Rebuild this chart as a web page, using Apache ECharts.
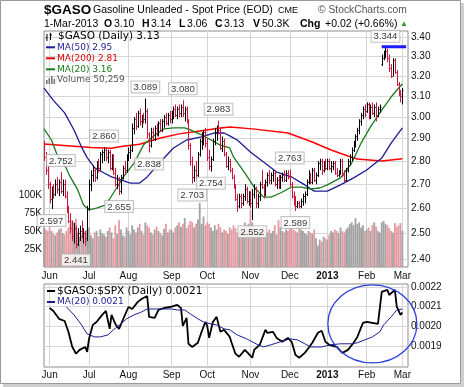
<!DOCTYPE html>
<html><head><meta charset="utf-8">
<script src="https://cdn.jsdelivr.net/npm/echarts@6/dist/echarts.min.js"></script>
<style>html,body{margin:0;padding:0;background:#fff}#c{width:464px;height:387px}</style>
</head><body><div id="c"></div>
<script>
// ---------- DATA ----------
const FIRST_DAY = '2012-05-29';
const DAY_COUNT = 195; // trading-day slots incl. 3 blank slots after the last bar
const HOLIDAYS = ['2012-07-04','2012-09-03','2012-11-22','2012-12-25','2013-01-01','2013-01-21','2013-02-18'];
const monthNames = ['Jan','Feb','Mar','Apr','May','Jun','Jul','Aug','Sep','Oct','Nov','Dec'];

// daily [open, high, low, close]
const ohlc = [
// May 29 - Jun 29
[2.86,2.89,2.80,2.82],[2.82,2.84,2.74,2.76],[2.76,2.78,2.68,2.70],[2.70,2.71,2.62,2.64],[2.64,2.69,2.597,2.67],
[2.67,2.70,2.64,2.66],[2.66,2.72,2.65,2.70],[2.70,2.73,2.66,2.68],[2.68,2.72,2.65,2.71],[2.71,2.752,2.66,2.67],
[2.67,2.72,2.65,2.70],[2.70,2.72,2.64,2.65],[2.65,2.67,2.58,2.59],[2.59,2.61,2.54,2.55],[2.55,2.58,2.50,2.52],
[2.52,2.55,2.47,2.49],[2.49,2.54,2.46,2.52],[2.52,2.53,2.441,2.46],[2.46,2.52,2.45,2.50],[2.50,2.53,2.47,2.51],
[2.51,2.55,2.48,2.49],[2.49,2.52,2.46,2.50],[2.50,2.51,2.45,2.47],[2.48,2.61,2.47,2.60],
// Jul
[2.60,2.72,2.59,2.70],[2.70,2.76,2.67,2.74],[2.74,2.78,2.71,2.76],[2.76,2.77,2.71,2.73],[2.73,2.80,2.72,2.79],
[2.79,2.81,2.75,2.77],[2.77,2.84,2.76,2.83],[2.83,2.85,2.79,2.84],[2.84,2.86,2.80,2.85],[2.85,2.86,2.80,2.82],
[2.82,2.85,2.79,2.84],[2.84,2.85,2.76,2.77],[2.77,2.83,2.76,2.82],[2.82,2.83,2.74,2.75],[2.75,2.77,2.69,2.70],
[2.70,2.74,2.68,2.72],[2.72,2.73,2.655,2.67],[2.67,2.74,2.66,2.73],[2.73,2.78,2.72,2.77],[2.77,2.80,2.74,2.76],
[2.76,2.83,2.75,2.82],
// Aug
[2.82,2.86,2.80,2.84],[2.84,2.87,2.81,2.85],[2.85,2.97,2.84,2.95],[2.95,3.00,2.92,2.99],[2.99,3.02,2.94,2.96],
[2.96,3.03,2.95,3.02],[3.02,3.04,2.96,2.98],[2.98,3.01,2.95,3.00],[3.00,3.02,2.97,2.99],[2.99,3.089,2.97,3.03],
[3.03,3.04,2.90,2.92],[2.92,2.93,2.838,2.87],[2.87,2.95,2.86,2.93],[2.93,2.95,2.89,2.90],[2.90,2.96,2.89,2.95],
[2.95,2.97,2.91,2.92],[2.92,2.98,2.91,2.97],[2.97,2.99,2.93,2.94],[2.94,2.99,2.93,2.98],[2.98,3.01,2.95,3.00],
[3.00,3.02,2.96,2.97],[2.97,3.02,2.96,3.01],[3.01,3.03,2.97,2.99],
// Sep
[2.99,3.03,2.97,3.02],[3.02,3.05,2.99,3.04],[3.04,3.06,3.00,3.01],[3.01,3.05,2.99,3.04],[3.04,3.06,3.00,3.02],
[3.02,3.06,3.00,3.05],[3.05,3.080,3.00,3.02],[3.02,3.05,2.98,3.04],[3.04,3.05,2.97,2.98],[2.98,2.99,2.85,2.87],
[2.87,2.88,2.78,2.80],[2.80,2.82,2.703,2.73],[2.73,2.78,2.71,2.76],[2.76,2.80,2.72,2.74],[2.74,2.84,2.73,2.83],
[2.83,2.90,2.82,2.89],[2.89,2.93,2.85,2.91],[2.91,2.94,2.87,2.93],[2.93,2.95,2.86,2.88],
// Oct
[2.88,2.90,2.80,2.82],[2.82,2.85,2.76,2.78],[2.78,2.82,2.754,2.81],[2.81,2.90,2.80,2.89],[2.89,2.95,2.87,2.93],
[2.93,2.96,2.89,2.95],[2.95,2.983,2.92,2.94],[2.94,2.95,2.85,2.86],[2.86,2.91,2.84,2.89],[2.89,2.90,2.82,2.83],
[2.83,2.84,2.77,2.78],[2.78,2.82,2.76,2.80],[2.80,2.81,2.75,2.76],[2.76,2.77,2.72,2.73],[2.73,2.74,2.68,2.69],
[2.69,2.70,2.63,2.64],[2.64,2.66,2.585,2.61],[2.61,2.66,2.60,2.65],[2.65,2.66,2.60,2.62],[2.62,2.66,2.61,2.65],
[2.65,2.70,2.63,2.68],[2.68,2.69,2.62,2.63],[2.63,2.67,2.61,2.66],
// Nov
[2.66,2.67,2.60,2.62],[2.62,2.68,2.552,2.66],[2.66,2.70,2.64,2.68],[2.68,2.69,2.60,2.62],[2.62,2.66,2.60,2.65],
[2.65,2.71,2.63,2.70],[2.70,2.76,2.68,2.69],[2.69,2.70,2.64,2.66],[2.66,2.72,2.65,2.71],[2.71,2.75,2.69,2.74],
[2.74,2.76,2.70,2.72],[2.72,2.75,2.70,2.74],[2.74,2.76,2.71,2.75],[2.75,2.76,2.69,2.70],[2.70,2.73,2.68,2.72],
[2.72,2.74,2.68,2.69],[2.69,2.74,2.68,2.73],[2.73,2.75,2.71,2.74],[2.74,2.76,2.71,2.72],[2.72,2.76,2.71,2.75],
[2.75,2.76,2.72,2.73],
// Dec
[2.73,2.763,2.69,2.70],[2.70,2.71,2.64,2.65],[2.65,2.67,2.61,2.63],[2.63,2.65,2.589,2.61],[2.61,2.63,2.60,2.62],
[2.62,2.63,2.60,2.61],[2.61,2.64,2.60,2.63],[2.63,2.66,2.61,2.65],[2.65,2.67,2.62,2.66],[2.66,2.72,2.65,2.71],
[2.71,2.76,2.70,2.74],[2.74,2.75,2.70,2.71],[2.71,2.77,2.70,2.76],[2.76,2.77,2.71,2.72],[2.72,2.75,2.70,2.74],
[2.74,2.80,2.73,2.79],[2.79,2.81,2.76,2.80],[2.80,2.81,2.74,2.76],[2.76,2.80,2.75,2.79],[2.79,2.81,2.76,2.77],
// Jan
[2.77,2.81,2.76,2.80],[2.80,2.81,2.76,2.77],[2.77,2.80,2.75,2.78],[2.78,2.80,2.76,2.79],[2.79,2.80,2.74,2.75],
[2.75,2.77,2.73,2.74],[2.74,2.76,2.73,2.75],[2.75,2.81,2.74,2.80],[2.80,2.81,2.73,2.74],[2.74,2.76,2.71,2.72],
[2.72,2.77,2.71,2.76],[2.76,2.81,2.75,2.80],[2.80,2.83,2.78,2.82],[2.82,2.86,2.80,2.85],[2.85,2.89,2.84,2.88],
[2.88,2.92,2.86,2.91],[2.91,2.95,2.89,2.94],[2.94,2.99,2.92,2.98],[2.98,3.02,2.96,3.01],[3.01,3.05,2.99,3.04],
[3.04,3.06,3.00,3.03],
// Feb
[3.03,3.07,3.02,3.06],[3.06,3.07,2.99,3.00],[3.00,3.06,2.99,3.05],[3.05,3.07,3.01,3.02],[3.02,3.06,3.00,3.05],
[3.05,3.07,2.98,3.01],[3.01,3.05,3.00,3.04],[3.04,3.06,3.02,3.05],[3.26,3.31,3.25,3.29],[3.29,3.33,3.28,3.32],
[3.32,3.344,3.29,3.33],[3.33,3.34,3.27,3.29],[3.29,3.31,3.22,3.24],[3.24,3.26,3.19,3.20],[3.20,3.29,3.20,3.28],
[3.28,3.29,3.21,3.22],[3.22,3.23,3.15,3.16],[3.16,3.17,3.10,3.12],[3.12,3.13,3.07,3.11],
// Mar 1
[3.10,3.14,3.06,3.13]
];

// daily volume, thousands
const volumeK = [
55,52,50,56,50,46,44,48,52,54,47,45,50,55,60,65,62,67,48,42,45,50,46,52,
55,44,40,48,50,43,52,47,45,42,50,55,48,40,58,46,65,52,44,42,55,
50,45,58,52,48,55,60,50,45,62,58,55,48,45,52,56,50,47,44,53,60,48,52,
52,48,55,58,62,56,60,68,54,58,64,62,55,60,66,89,60,70,58,
62,60,55,50,58,52,60,55,48,52,50,46,55,52,58,54,48,52,56,50,62,58,60,
79,62,55,50,48,52,45,55,50,48,52,47,50,58,45,65,55,50,48,52,50,
56,54,52,50,48,55,52,50,47,45,50,48,46,52,40,30,38,35,42,40,
38,45,50,48,52,50,47,55,50,48,52,55,60,62,58,68,60,62,55,58,50,
52,55,50,58,62,56,50,48,62,64,60,58,54,50,48,61,56,58,61,
50.259
];

// moving averages: [trading-day index, value]
const ma50 = [[0,3.14],[5,3.08],[11,3.02],[16,2.94],[20,2.862],[23,2.815],[27,2.77],[32,2.748],[36,2.731],[41,2.718],[46,2.705],[51,2.705],[55,2.731],[62,2.796],[69,2.858],[76,2.894],[84,2.908],[91,2.926],[96,2.926],[99,2.913],[103,2.894],[110,2.84],[117,2.796],[124,2.752],[132,2.731],[139,2.697],[144,2.671],[151,2.671],[158,2.697],[165,2.727],[172,2.761],[180,2.813],[185,2.88],[191,2.95]];
const ma200 = [[0,2.876],[25,2.86],[36,2.857],[41,2.865],[51,2.875],[62,2.903],[72,2.922],[83,2.935],[94,2.949],[99,2.954],[111,2.945],[130,2.926],[143,2.885],[153,2.849],[162,2.822],[167,2.809],[180,2.80],[191,2.81]];
const ma20 = [[0,2.945],[4,2.894],[7,2.827],[11,2.783],[14,2.731],[18,2.676],[21,2.614],[24,2.593],[28,2.601],[33,2.614],[37,2.663],[43,2.739],[48,2.791],[53,2.871],[59,2.917],[64,2.945],[69,2.95],[75,2.95],[78,2.94],[84,2.917],[89,2.894],[94,2.871],[99,2.858],[101,2.818],[107,2.748],[112,2.688],[117,2.646],[121,2.646],[126,2.663],[132,2.688],[137,2.688],[142,2.68],[147,2.684],[151,2.697],[158,2.727],[164,2.791],[169,2.88],[174,2.954],[180,3.033],[185,3.096],[189,3.14],[191,3.16]];

// $GASO:$SPX ratio and its MA(20): [trading-day index, value]
const ratio = [[3,0.002093],[5,0.002078],[8,0.002038],[11,0.002027],[13,0.001972],[15,0.001897],[17,0.001861],[19,0.00188],[20,0.00187],[22,0.001895],[23,0.00187],[24,0.001936],[26,0.002007],[28,0.002022],[31,0.002058],[33,0.002078],[35,0.001987],[36,0.002058],[38,0.002012],[40,0.001987],[42,0.002032],[45,0.002098],[47,0.002088],[50,0.002124],[52,0.002139],[55,0.002154],[56,0.002048],[59,0.002043],[61,0.002083],[64,0.002093],[68,0.0021],[71,0.002109],[73,0.002093],[74,0.002002],[76,0.002043],[77,0.001911],[79,0.001895],[82,0.001916],[84,0.001972],[86,0.002022],[87,0.002002],[88,0.001941],[90,0.002022],[92,0.002048],[93,0.002058],[94,0.001972],[96,0.001982],[99,0.001946],[100,0.001916],[102,0.001861],[104,0.001845],[107,0.00188],[109,0.001861],[111,0.00184],[112,0.00188],[115,0.001906],[118,0.001982],[119,0.001967],[122,0.001972],[124,0.001941],[127,0.001921],[130,0.001941],[132,0.001921],[134,0.001855],[136,0.00184],[139,0.001865],[141,0.00189],[143,0.001916],[146,0.001967],[148,0.001977],[150,0.001921],[152,0.001906],[156,0.001895],[159,0.001865],[162,0.00188],[165,0.001916],[167,0.001946],[170,0.002017],[172,0.002022],[175,0.002017],[178,0.002012],[179,0.002012],[180,0.002175],[183,0.002185],[184,0.002159],[187,0.002185],[188,0.0021],[190,0.002058],[191,0.00207]];
const ratioMA20 = [[12,0.002098],[16,0.002058],[20,0.002007],[23,0.001961],[27,0.001946],[30,0.001946],[34,0.001956],[37,0.001982],[41,0.002012],[44,0.002038],[48,0.002058],[52,0.002073],[55,0.002088],[62,0.002088],[68,0.002088],[71,0.002083],[75,0.002083],[78,0.002063],[82,0.002038],[85,0.002022],[89,0.002012],[92,0.002007],[96,0.001987],[99,0.001982],[103,0.001956],[108,0.001936],[114,0.001906],[117,0.001895],[121,0.001906],[126,0.001921],[131,0.001936],[135,0.001931],[139,0.001911],[142,0.001895],[148,0.001895],[153,0.001906],[158,0.001911],[164,0.001911],[167,0.001916],[171,0.001931],[175,0.001946],[179,0.001972],[181,0.002007],[185,0.002048],[188,0.002083],[191,0.002088]];

// labelled highs / lows: [index, value, side]
const peaks = [[4,2.597,'bottom'],[9,2.752,'top'],[17,2.441,'bottom'],[32,2.860,'top'],[40,2.655,'bottom'],[54,3.089,'top'],[56,2.838,'bottom'],[74,3.080,'top'],[79,2.703,'bottom'],[89,2.754,'bottom'],[93,2.983,'top'],[111,2.552,'bottom'],[131,2.763,'top'],[134,2.589,'bottom'],[182,3.344,'top']];
const highLine = [[180,3.35],[193,3.35]];

const priceTicks = [2.40,2.50,2.60,2.70,2.80,2.90,3.00,3.10,3.20,3.30,3.40];
const volumeTicks = [25,50,75,100];
const ratioTicks = [0.0019,0.0020,0.0021,0.0022];

// ---------- BUILD ----------
function buildTradingDays(){
  const out=[]; const d=new Date(FIRST_DAY+'T00:00:00Z');
  while(out.length<DAY_COUNT){
    const wd=d.getUTCDay(); const s=d.toISOString().slice(0,10);
    if(wd!==0&&wd!==6&&HOLIDAYS.indexOf(s)<0) out.push(s);
    d.setUTCDate(d.getUTCDate()+1);
  }
  return out;
}
const dates = buildTradingDays();
const isMonthStart = dates.map((s,i)=> i>0 && s.slice(5,7)!==dates[i-1].slice(5,7));
function monthLabel(v){ const m=+v.slice(5,7); return m===1 ? '{b|'+v.slice(0,4)+'}' : monthNames[m-1]; }

const ohlcData = ohlc.map((d,i)=>[i,d[0],d[1],d[2],d[3], i>0?ohlc[i-1][3]:d[0]]);
const UP='#000000', DOWN='#d4143c';
const volData = volumeK.map((v,i)=>({value:v, itemStyle:{color: (i>0 && ohlc[i][3]<ohlc[i-1][3]) ? '#e49aa2' : '#a2a2a2'}}));

const AXFONT = 'Liberation Sans, Arial, sans-serif';
const xAxisBase = (gi, margin) => ({
  type:'category', gridIndex:gi, data:dates, boundaryGap:false,
  axisLine:{show:false}, axisTick:{show:false},
  axisLabel:{interval:(i)=>isMonthStart[i], formatter:(v)=>monthLabel(v), margin:margin,
    fontFamily:AXFONT, fontSize:10, color:'#111', rich:{b:{fontWeight:'bold', fontFamily:AXFONT, fontSize:10, color:'#111'}}},
  splitLine:{show:true, interval:(i)=>isMonthStart[i], lineStyle:{color:'#d6d6d6', width:1}}
});

const chart = echarts.init(document.getElementById('c'), null, {renderer:'canvas'});
chart.setOption({
  animation:false,
  backgroundColor:'#ffffff',
  grid:[
    {left:44, top:31, width:364, height:236, show:true, borderColor:'#8c8c8c', borderWidth:1, backgroundColor:'transparent'},
    {left:44, top:284, width:364, height:83, show:true, borderColor:'#8c8c8c', borderWidth:1, backgroundColor:'transparent'}
  ],
  xAxis:[xAxisBase(0,4), xAxisBase(1,3)],
  yAxis:[
    {type:'log', logBase:10, gridIndex:0, position:'right', min:2.371, max:3.434,
     axisLine:{show:false},
     axisTick:{show:false, customValues:priceTicks},
     axisLabel:{customValues:priceTicks, formatter:(v)=>Number(v).toFixed(2), margin:3, fontFamily:AXFONT, fontSize:10, color:'#111'},
     splitLine:{show:true, lineStyle:{color:'#d6d6d6', width:1}}},
    {type:'value', gridIndex:0, position:'left', min:0, max:327.8,
     axisLine:{show:false}, axisTick:{show:false, customValues:volumeTicks},
     axisLabel:{customValues:volumeTicks, formatter:(v)=>v+'K', margin:2, fontFamily:AXFONT, fontSize:10, color:'#111'},
     splitLine:{show:false}},
    {type:'value', gridIndex:1, position:'right', min:0.001793, max:0.002215,
     axisLine:{show:false}, axisTick:{show:false, customValues:ratioTicks},
     axisLabel:{customValues:ratioTicks, formatter:(v)=>Number(v).toFixed(4), margin:3, fontFamily:AXFONT, fontSize:10, color:'#111'},
     splitLine:{show:true, lineStyle:{color:'#d6d6d6', width:1}}}
  ],
  series:[
    {name:'Volume', type:'bar', xAxisIndex:0, yAxisIndex:1, data:volData, barWidth:1.8, z:1, silent:true},
    {name:'MA(200)', type:'line', xAxisIndex:0, yAxisIndex:0, data:ma200, symbol:'none', lineStyle:{color:'#ff0000', width:1.5}, z:3, silent:true},
    {name:'MA(50)', type:'line', xAxisIndex:0, yAxisIndex:0, data:ma50, symbol:'none', lineStyle:{color:'#1c1c96', width:1.3}, z:3, silent:true},
    {name:'MA(20)', type:'line', xAxisIndex:0, yAxisIndex:0, data:ma20, symbol:'none', lineStyle:{color:'#1b7a1b', width:1.3}, z:3, silent:true},
    {name:'$GASO', type:'custom', xAxisIndex:0, yAxisIndex:0, data:ohlcData, encode:{x:0, y:[2,3]}, z:4, silent:true, clip:true,
     renderItem:function(params, api){
       const i=api.value(0), o=api.value(1), h=api.value(2), l=api.value(3), c=api.value(4), pc=api.value(5);
       const ph=api.coord([i,h]), pl=api.coord([i,l]), po=api.coord([i,o]), pcl=api.coord([i,c]);
       const x=Math.round(ph[0])+0.5;
       const col = c>=pc ? UP : DOWN;
       const yo=Math.round(po[1])+0.5, yc=Math.round(pcl[1])+0.5;
       return {type:'group', children:[
         {type:'line', shape:{x1:x,y1:ph[1],x2:x,y2:pl[1]}, style:{stroke:col, lineWidth:1}},
         {type:'line', shape:{x1:x-1,y1:yo,x2:x,y2:yo}, style:{stroke:col, lineWidth:1}},
         {type:'line', shape:{x1:x,y1:yc,x2:x+1,y2:yc}, style:{stroke:col, lineWidth:1}}
       ]};
     }},
    {name:'high', type:'line', xAxisIndex:0, yAxisIndex:0, data:highLine, symbol:'none', lineStyle:{color:'#1a1aff', width:3}, z:5, silent:true},
    {name:'peaks', type:'scatter', xAxisIndex:0, yAxisIndex:0, symbolSize:0.1, itemStyle:{color:'rgba(0,0,0,0)'}, z:6, silent:true,
     data:peaks.map(p=>({value:[p[0],p[1]], label:{position:p[2]}})),
     label:{show:true, distance:6, formatter:(p)=>p.value[1].toFixed(3), fontFamily:AXFONT, fontSize:9.5, color:'#000',
       backgroundColor:'#ffffff', borderColor:'#b4b4b4', borderWidth:1, padding:[1,2,0,2]}},
    {name:'ratio', type:'line', xAxisIndex:1, yAxisIndex:2, data:ratio, symbol:'none', lineStyle:{color:'#000', width:1.8}, z:3, silent:true},
    {name:'ratioMA', type:'line', xAxisIndex:1, yAxisIndex:2, data:ratioMA20, symbol:'none', lineStyle:{color:'#1c1c96', width:1}, z:4, silent:true}
  ]
});

// ---------- TEXT & ANNOTATIONS ----------
const LF='DejaVu Sans, Verdana, sans-serif';
const g=[];
function txt(x,y,t,opt){ g.push({type:'text', x:x, y:y, z:50, style:Object.assign({text:t, fill:'#000', font:'10.5px '+AXFONT, textVerticalAlign:'middle'}, opt||{})}); }
// frame
g.push({type:'rect', z:40, shape:{x:0.5,y:0.5,width:460,height:383}, style:{fill:'none', stroke:'#9a9a9a', lineWidth:1}});
g.push({type:'rect', z:40, shape:{x:461,y:3,width:3,height:384}, style:{fill:'#cfcfcf'}});
g.push({type:'rect', z:40, shape:{x:3,y:384,width:461,height:3}, style:{fill:'#cfcfcf'}});
// title
txt(44,10,'$GASO',{font:'bold 13.5px '+AXFONT});
txt(93,10,'Gasoline Unleaded - Spot Price (EOD)',{font:'10.5px '+AXFONT});
txt(278,10.5,'CME',{font:'9px '+AXFONT});
txt(318,10,'\u00A9 StockCharts.com',{font:'10.3px '+AXFONT, fill:'#555'});
const hdr=[[44,'1-Mar-2013',0],[104,'O',1],[114,'3.10',0],[142,'H',1],[151,'3.14',0],[179,'L',1],[187,'3.06',0],[215,'C',1],[224,'3.13',0],[253,'V',1],[262,'50.3K',0],[300,'Chg',1],[325,'+0.02 (+0.66%)',0]];
hdr.forEach(h=>txt(h[0],24,h[1],{font:(h[2]?'bold ':'')+'10.5px '+AXFONT}));
txt(400,24,'\u25B2',{font:'8px '+AXFONT, fill:'#2f9a2f'});
// main legend
g.push({type:'polyline', z:50, shape:{points:[[47,34],[47,41]]}, style:{stroke:'#000', lineWidth:1}});
g.push({type:'polyline', z:50, shape:{points:[[45.5,38],[47,38]]}, style:{stroke:'#000', lineWidth:1}});
g.push({type:'polyline', z:50, shape:{points:[[50.5,33],[50.5,40]]}, style:{stroke:'#000', lineWidth:1}});
g.push({type:'polyline', z:50, shape:{points:[[50.5,35],[52,35]]}, style:{stroke:'#000', lineWidth:1}});
txt(58,36.5,'$GASO (Daily) 3.13',{font:'10.5px '+LF});
const leg=[[47.3,'MA(50) 2.95','#1c1c96'],[58.3,'MA(200) 2.81','#e00000'],[69.3,'MA(20) 3.16','#1b7a1b']];
leg.forEach(l=>{ g.push({type:'rect', z:50, shape:{x:46,y:l[0]-1,width:9,height:2}, style:{fill:l[2]}}); txt(57,l[0],l[1],{font:'9px '+LF, fill:l[2]}); });
[[46,4],[48.5,6],[51,8],[53.5,5]].forEach(b=>g.push({type:'rect', z:50, shape:{x:b[0],y:84-b[1],width:1.6,height:b[1]}, style:{fill:'#777'}}));
txt(57,80,'Volume 50,259',{font:'9px '+LF, fill:'#555'});
// ratio legend
g.push({type:'rect', z:50, shape:{x:47,y:290,width:8,height:2}, style:{fill:'#000'}});
txt(57,291,'$GASO:$SPX (Daily) 0.0021',{font:'10.5px '+LF});
g.push({type:'rect', z:50, shape:{x:47,y:301,width:8,height:2}, style:{fill:'#1c1c96'}});
txt(57,302,'MA(20) 0.0021',{font:'9px '+LF, fill:'#1c1c96'});
// ellipse annotation around the ratio breakout
const ec = chart.convertToPixel({gridIndex:1}, [175, 0.002012]);
g.push({type:'ellipse', z:45, shape:{cx:ec[0], cy:ec[1], rx:44.5, ry:39}, style:{fill:'none', stroke:'#2b3fe0', lineWidth:1.3}});
chart.setOption({graphic:g});
</script>
</body></html>
